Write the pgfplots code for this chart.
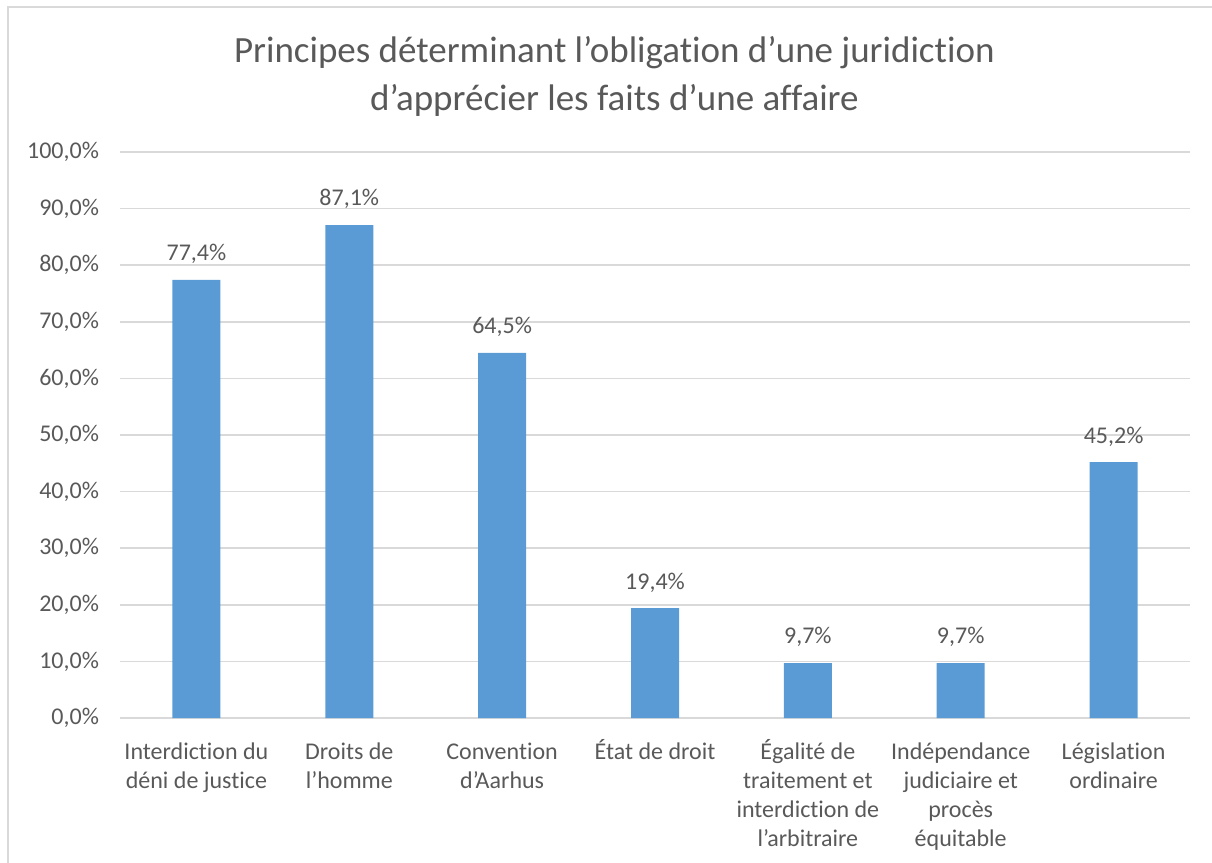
\documentclass[border=0pt]{standalone}
\usepackage{pgfplots}
\pgfplotsset{compat=1.18}
\usepackage{fontspec}
\setmainfont{Carlito}[Ligatures=NoCommon]
\definecolor{barblue}{HTML}{5B9BD5}
\definecolor{txt}{HTML}{595959}
\definecolor{gridc}{HTML}{D9D9D9}
\newcommand{\ac}{\vphantom{É}}
\begin{document}
\begin{tikzpicture}
\useasboundingbox (-60bp,-72.5bp) rectangle (546bp,359bp);
\draw[gridc, line width=0.9bp] (-56bp,-72.5bp) -- (-56bp,355.5bp) -- (546bp,355.5bp);
\begin{axis}[
  scale only axis, width=535bp, height=283bp,
  xmin=-0.5, xmax=6.5, ymin=0, ymax=100,
  axis line style={draw=none},
  major tick length=0pt,
  ymajorgrids, grid style={gridc, line width=0.75bp},
  ytick={0,10,...,100},
  /pgf/number format/assume math mode=true,
  yticklabel={\pgfmathprintnumber[fixed,fixed zerofill,precision=1,use comma]{\tick}\%},
  yticklabel style={font=\fontsize{12bp}{14.5bp}\selectfont, text=txt, xshift=-7bp},
  xtick={0,...,6},
  xticklabels={{\ac Interdiction du\\déni de justice},{\ac Droits de\\l’homme},{\ac Convention\\d’Aarhus},{État de droit},{Égalité de\\traitement et\\interdiction de\\l’arbitraire},{\ac Indépendance\\judiciaire et\\procès\\équitable},{\ac Législation\\ordinaire}},
  xticklabel style={align=center, font=\fontsize{12bp}{14.5bp}\selectfont, text=txt, yshift=-7bp},
  title={Principes déterminant l’obligation d’une juridiction\\d’apprécier les faits d’une affaire},
  title style={align=center, font=\fontsize{18.5bp}{24bp}\selectfont, text=txt, at={(0.462,1)}, anchor=center, yshift=32bp},
  nodes near coords={\pgfmathprintnumber[fixed,fixed zerofill,precision=1,use comma]{\pgfplotspointmeta}\%},
  nodes near coords style={font=\fontsize{12bp}{14.5bp}\selectfont, text=txt, anchor=south, yshift=4.5bp},
]
\addplot[ybar, bar width=24bp, fill=barblue, draw=none] coordinates {
  (0,77.4) (1,87.1) (2,64.5) (3,19.4) (4,9.7) (5,9.7) (6,45.2)
};
\end{axis}
\end{tikzpicture}
\end{document}
